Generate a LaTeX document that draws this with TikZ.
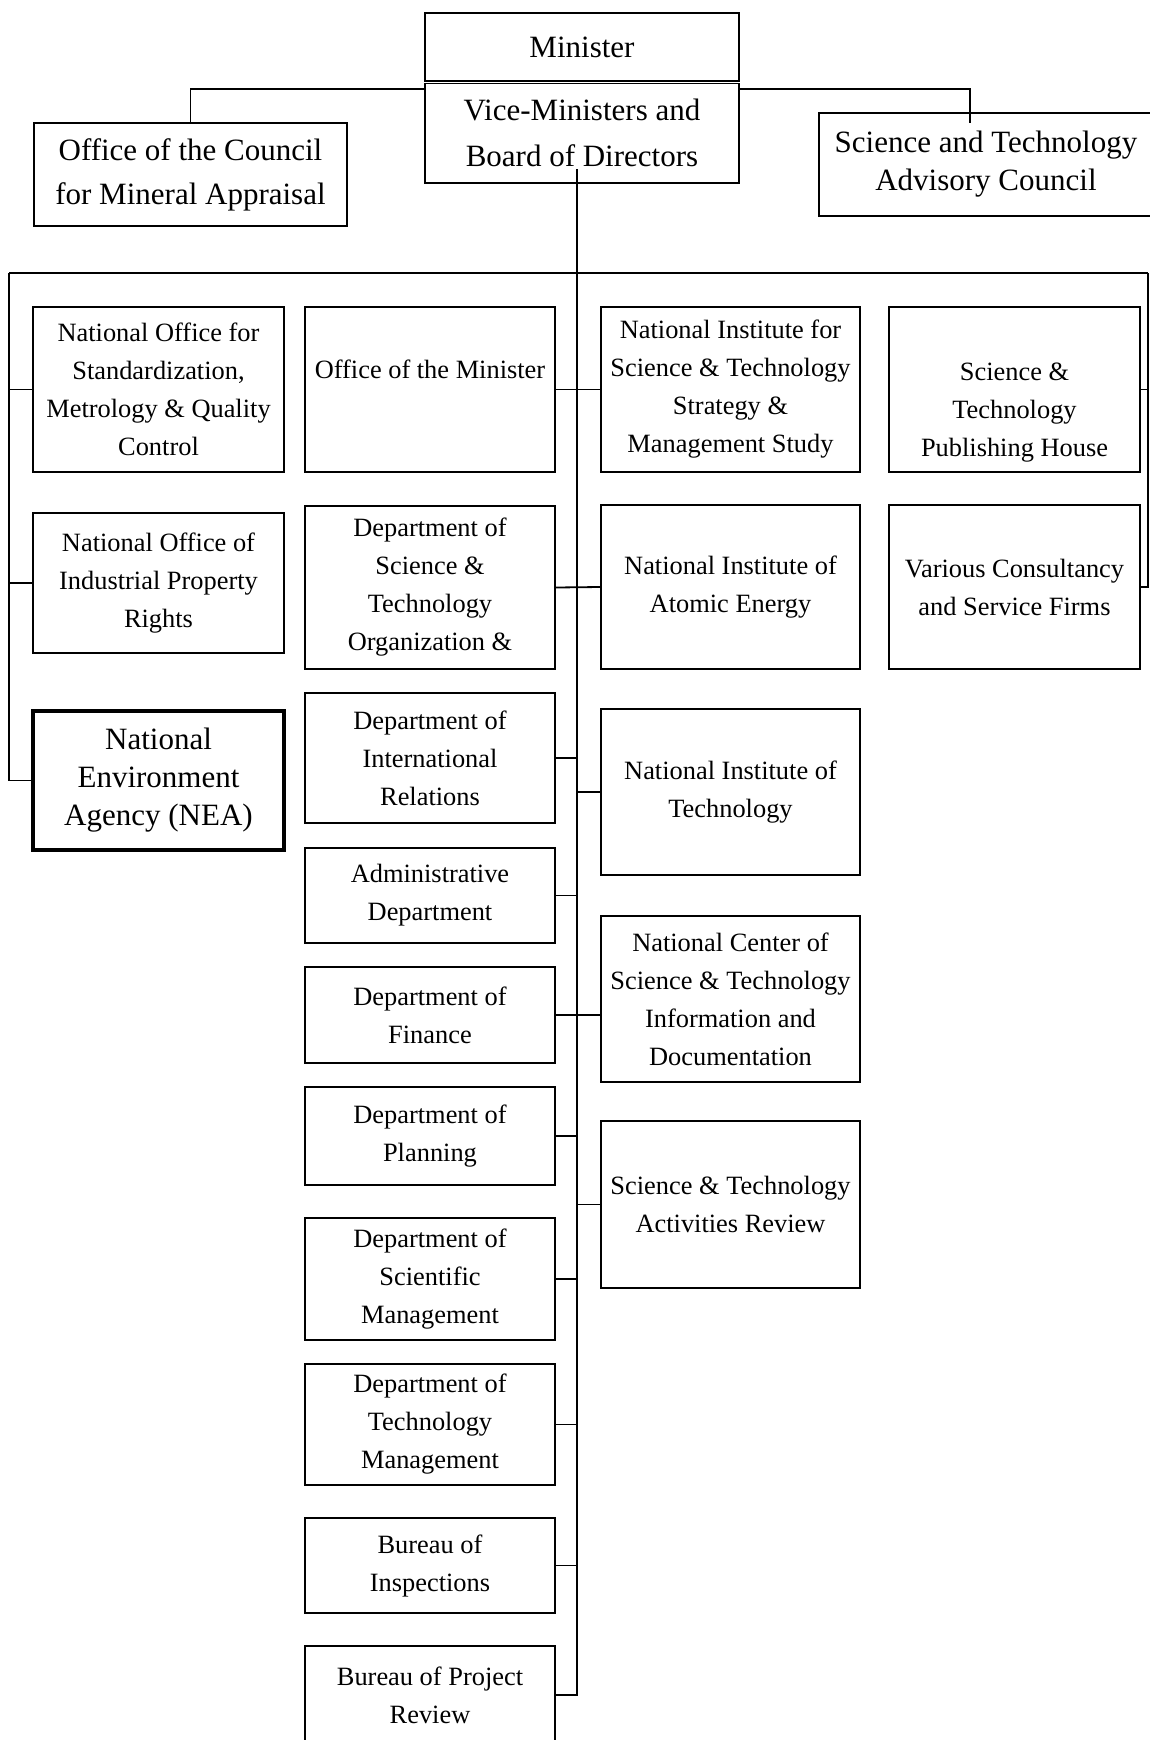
\documentclass[tikz,border=0pt]{standalone}
\usepackage{fontspec}
\setmainfont{Liberation Serif}
\usepackage{tikz}
\usetikzlibrary{positioning,calc}

\newcommand{\unitfont}{\fontsize{13.2}{19}\selectfont}
\newcommand{\headfont}{\fontsize{15.5}{20}\selectfont}

\tikzset{
  unit/.style={draw, line width=0.9pt, inner sep=0pt, align=center, font=\unitfont},
  head/.style={unit, font=\headfont},
  leftcol/.style={unit, minimum width=125.5pt},
  midcol/.style={unit, minimum width=125pt},
  instcol/.style={unit, minimum width=129.5pt},
  farcol/.style={unit, minimum width=125.5pt},
  link/.style={line width=0.9pt},
}

\begin{document}
\begin{tikzpicture}[x=0.5pt,y=-0.5pt]
        \useasboundingbox (0,0) rectangle (1150,1740);
        \clip (0,0) rectangle (1150,1740);

        % Top level
        \node[head, minimum width=157pt, minimum height=34pt] (minister) at (582,47) {Minister};
        \node[head, minimum width=157pt, minimum height=49.75pt, font=\fontsize{15.5}{23}\selectfont] (vice) at (582,133.25) {Vice-Ministers and\\Board of Directors};
        \node[head, minimum width=156.5pt, minimum height=51.5pt, font=\fontsize{15.5}{22}\selectfont] (council) at (190.5,174.5) {Office of the Council\\for Mineral Appraisal};
        \node[head, minimum width=167pt, minimum height=51.5pt, font=\fontsize{15.5}{19}\selectfont] (stac) at (986,164.5) {Science and Technology\\Advisory Council};

        % Left column
        \node[leftcol, minimum height=82.5pt] (nosmq) at (158.5,389.5) {National Office for\\Standardization,\\Metrology \& Quality\\Control};
        \node[leftcol, minimum height=70pt] (noipr) at (158.5,583) {National Office of\\Industrial Property\\Rights};
        \node[leftcol, minimum height=69.5pt, line width=2pt, font=\fontsize{15.5}{19}\selectfont] (nea) at (158.5,780.5) {National\\Environment\\Agency (NEA)};

        % Departments and bureaus
        \node[midcol, minimum height=82.5pt] (oom) at (430,389.5) {\strut\\Office of the Minister\\\strut\\\strut};
        \node[midcol, minimum height=81.5pt] (dsto) at (430,587.5) {Department of\\Science \&\\Technology\\Organization \&};
        \node[midcol, minimum height=65pt] (dir) at (430,758) {Department of\\International\\Relations};
        \node[midcol, minimum height=47.5pt] (adm) at (430,895.5) {Administrative\\Department};
        \node[midcol, minimum height=48pt] (fin) at (430,1015) {Department of\\Finance};
        \node[midcol, minimum height=49pt] (plan) at (430,1136) {Department of\\Planning};
        \node[midcol, minimum height=61pt] (dsm) at (430,1279) {Department of\\Scientific\\Management};
        \node[midcol, minimum height=60.5pt] (dtm) at (430,1424.5) {Department of\\Technology\\Management};
        \node[midcol, minimum height=47.5pt] (boi) at (430,1565.5) {Bureau of\\Inspections};
        \node[midcol, minimum height=49pt] (bopr) at (430,1695) {Bureau of Project\\Review};

        % Institutes and centers
        \node[instcol, minimum height=82.5pt] (nistsms) at (730.5,389.5) {National Institute for\\Science \& Technology\\Strategy \&\\Management Study};
        \node[instcol, minimum height=82pt] (niae) at (730.5,587) {National Institute of\\Atomic Energy};
        \node[instcol, minimum height=83pt] (nit) at (730.5,792) {National Institute of\\Technology};
        \node[instcol, minimum height=83pt] (ncstid) at (730.5,999) {National Center of\\Science \& Technology\\Information and\\Documentation};
        \node[instcol, minimum height=83.5pt] (star) at (730.5,1204.5) {Science \& Technology\\Activities Review};

        % Enterprises
        \node[farcol, minimum height=82.5pt] (pub) at (1014.5,389.5) {\strut\\Science \&\\Technology\\Publishing House};
        \node[farcol, minimum height=82pt] (various) at (1014.5,587) {Various Consultancy\\and Service Firms};

        % Links at the top
        \coordinate (stacin) at (970,123);
        \draw[link] ([yshift=-3pt]vice.north west) -| (council.north);
        \draw[link] ([yshift=-3pt]vice.north east) -| (stacin);

        % Main trunk and bus
        \coordinate (trunktop) at (577,169);
        \coordinate (busleft) at (9,273);
        \coordinate (busright) at (1148,273);
        \draw[link] (trunktop) |- (bopr.east);
        \draw[link] (busleft) -- (busright);
        \draw[link] (busleft) |- (nea.west);
        \draw[link] (busright) |- (various.east);
        \draw[link] (nosmq.west) -- (nosmq.west -| busleft);
        \draw[link] (noipr.west) -- (noipr.west -| busleft);
        \draw[link] (pub.east) -- (pub.east -| busright);

        % Branches off the trunk
        \draw[link] (oom.east) -- (nistsms.west);
        \draw[link] (dsto.east) -- (niae.west);
        \draw[link] (fin.east) -- (fin.east -| ncstid.west);
        \foreach \n in {dir,adm,plan,dsm,dtm,boi}
          \draw[link] (\n.east) -- (\n.east -| trunktop);
        \foreach \n in {nit,star}
          \draw[link] (\n.west) -- (\n.west -| trunktop);
      \end{tikzpicture}
\end{document}
